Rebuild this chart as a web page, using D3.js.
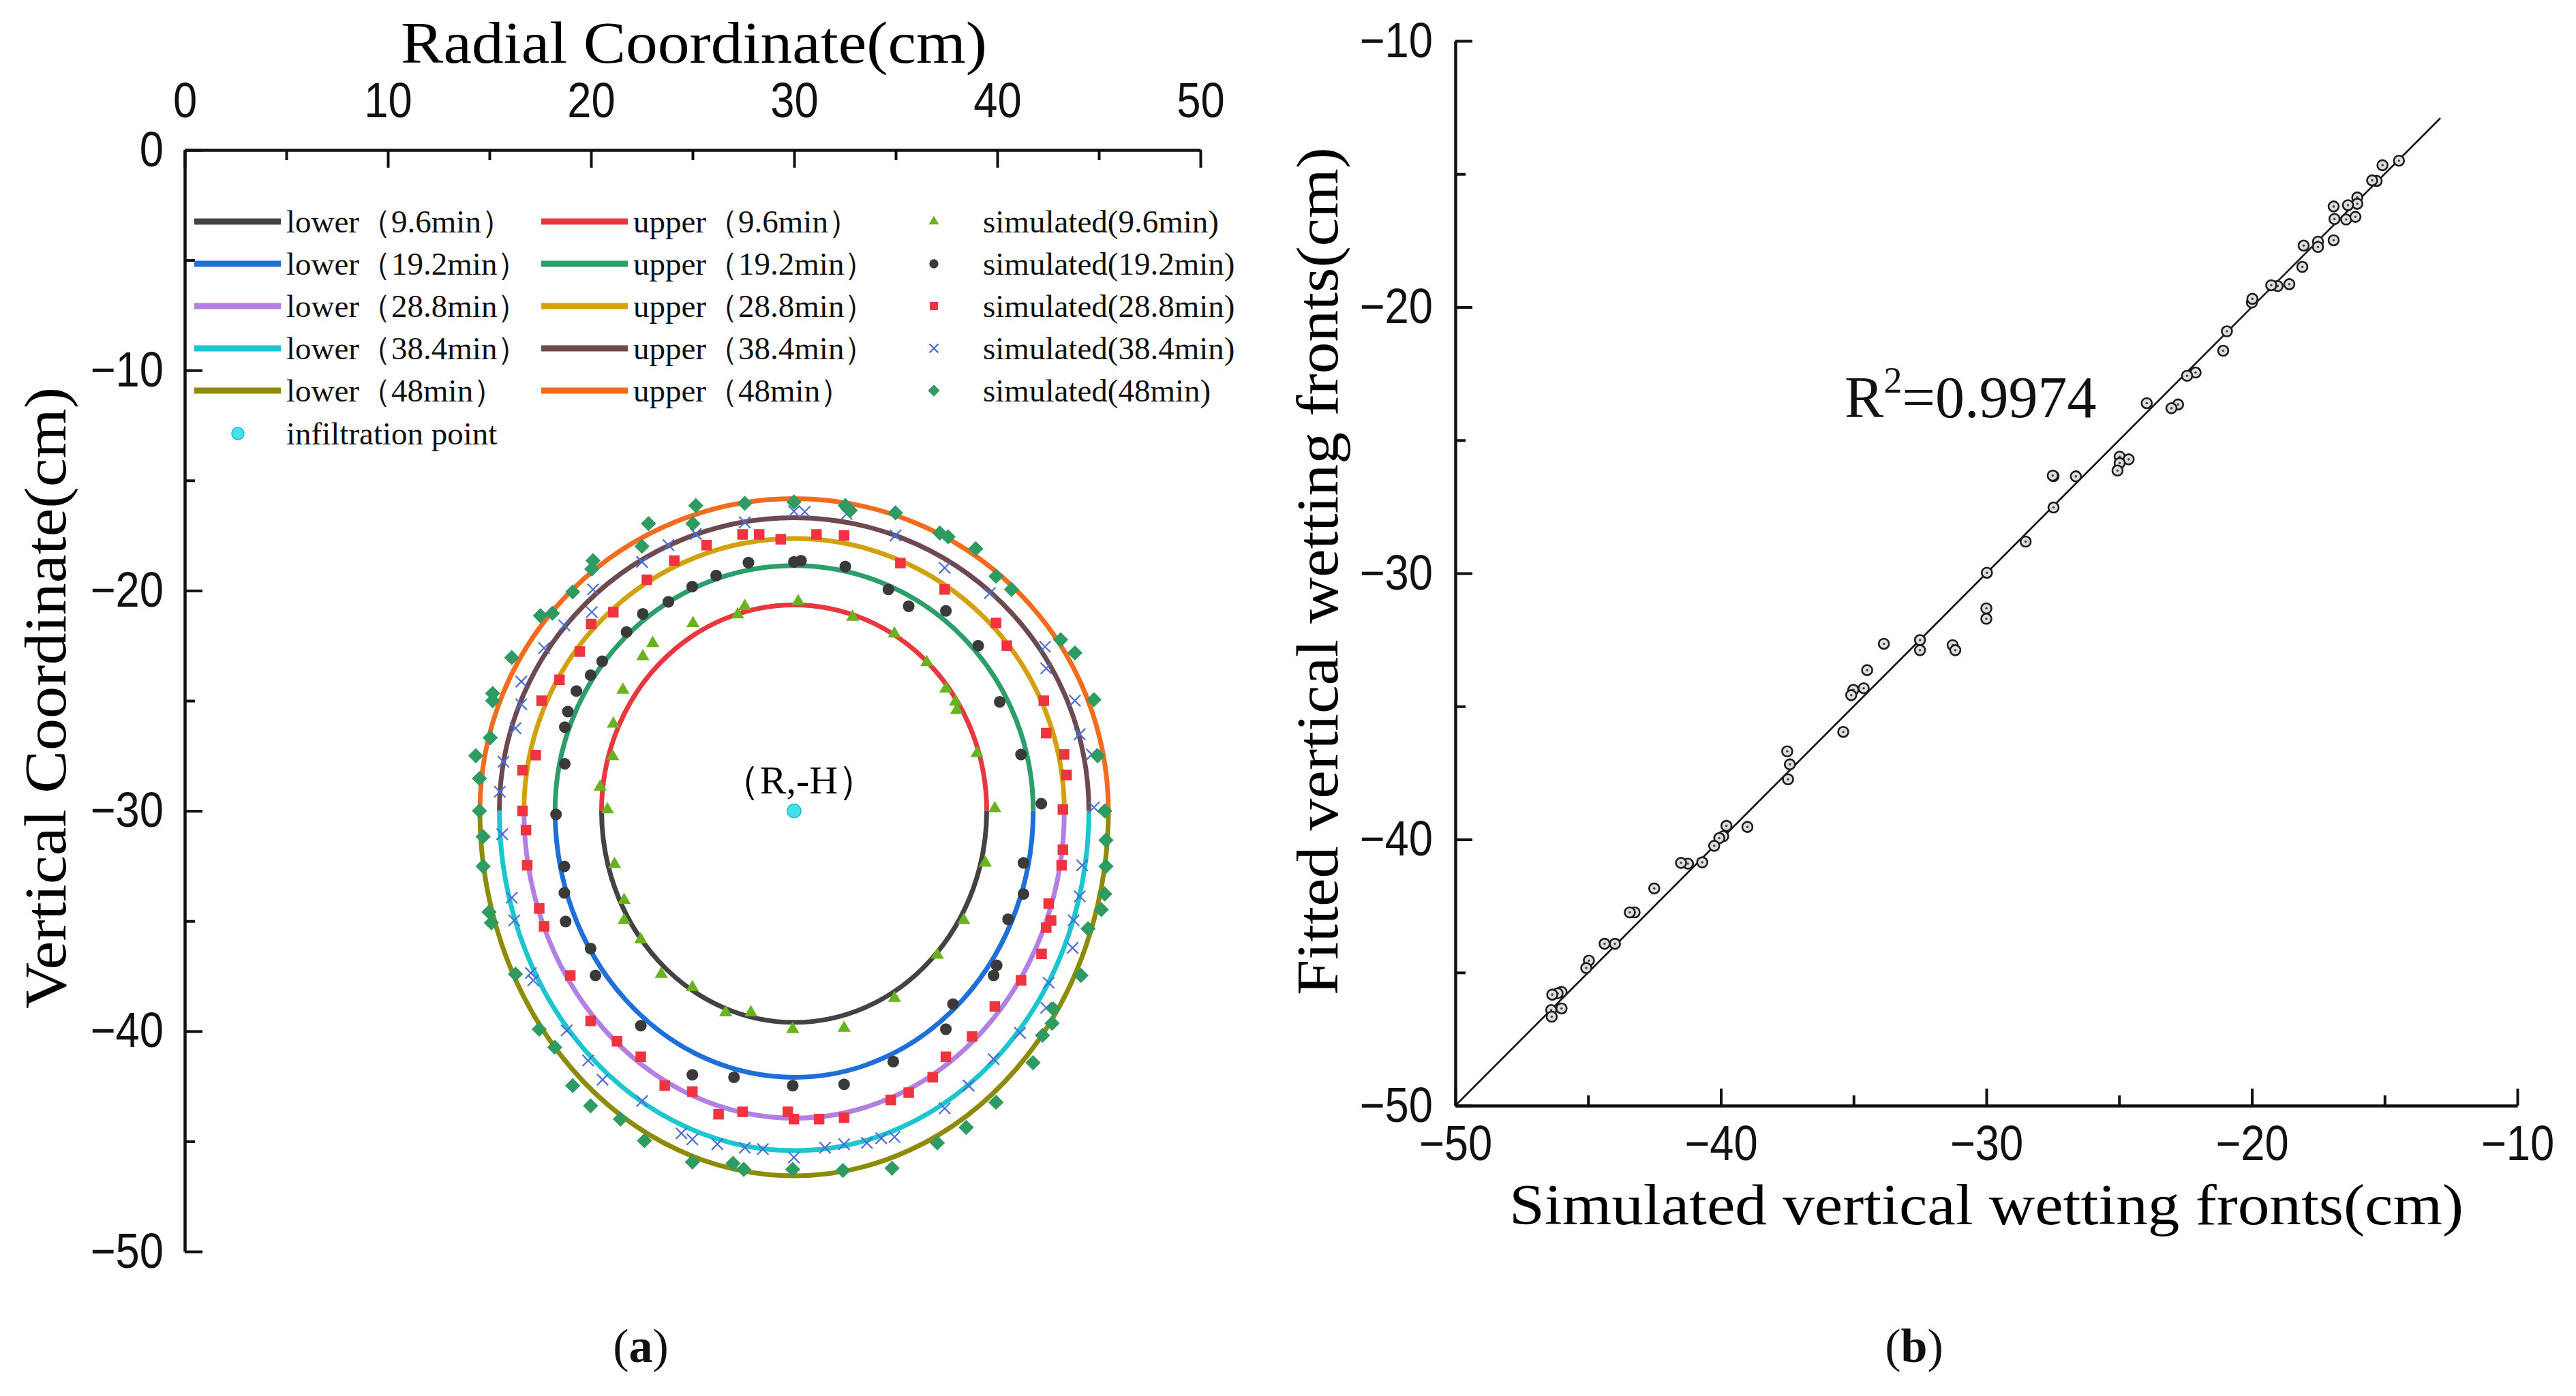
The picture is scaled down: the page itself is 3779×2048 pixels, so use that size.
<!DOCTYPE html>
<html>
<head>
<meta charset="utf-8">
<title>Wetting fronts</title>
<script src="https://cdn.jsdelivr.net/npm/d3@7"></script>
<style>
  body { margin: 0; background: #fff; }
  svg { display: block; }
</style>
</head>
<body>
<script>
// ---------- data ----------
var times = ["9.6", "19.2", "28.8", "38.4", "48"];
var infiltration = [30, -30];

// fitted fronts: half width, upward reach and downward reach from (R,-H), cm
var fitHalfWidth = [9.48, 11.77, 13.30, 14.51, 15.47];
var fitUpper = [9.35, 11.14, 12.36, 13.31, 14.18];
var fitLower = [9.60, 12.10, 13.95, 15.42, 16.57];

var lowerLabels = ["lower（9.6min）", "lower（19.2min）", "lower（28.8min）", "lower（38.4min）", "lower（48min）"];
var upperLabels = ["upper（9.6min）", "upper（19.2min）", "upper（28.8min）", "upper（38.4min）", "upper（48min）"];
var simLabels = ["simulated(9.6min)", "simulated(19.2min)", "simulated(28.8min)", "simulated(38.4min)", "simulated(48min)"];

var sim96 = [[30.2,-20.49],[27.57,-20.71],[27.22,-21.09],[25.02,-21.49],[23.04,-22.39],[22.55,-22.99],[21.57,-24.51],
  [21.1,-26.05],[21.07,-27.53],[20.45,-28.91],[20.81,-29.94],[32.88,-21.2],[34.94,-21.96],[36.53,-23.26],[37.47,-24.46],
  [37.94,-25.05],[38.0,-25.43],[39.0,-27.39],[39.88,-29.89],[21.16,-32.42],[21.63,-34.05],[21.63,-34.97],[22.45,-35.84],
  [23.46,-37.41],[24.99,-38.01],[26.63,-39.15],[27.87,-39.15],[29.93,-39.91],[32.46,-39.86],[34.94,-38.5],[37.05,-36.54],
  [38.35,-34.97],[39.41,-32.36]];
var sim192 = [[30.34,-18.64],[29.99,-18.7],[27.75,-18.73],[26.16,-19.32],[24.98,-19.82],[23.81,-20.51],[22.55,-21.06],
  [21.75,-21.88],[20.55,-23.21],[19.98,-23.84],[19.28,-24.56],[18.86,-25.49],[18.71,-26.2],[18.71,-27.86],[18.28,-30.16],
  [32.52,-18.91],[34.64,-19.95],[35.64,-20.71],[37.47,-20.92],[39.06,-22.5],[40.12,-25.05],[41.17,-27.44],[42.17,-29.67],
  [18.69,-32.52],[18.69,-33.72],[18.75,-35.02],[19.98,-36.25],[20.22,-37.47],[22.45,-39.75],[24.99,-41.98],[27.04,-42.09],
  [29.93,-42.47],[32.46,-42.41],[34.88,-41.38],[37.47,-39.91],[37.82,-38.77],[39.82,-37.47],[39.97,-37.01],[40.53,-34.92],
  [41.29,-33.77],[41.29,-32.36]];
var sim288 = [[31.1,-17.45],[29.34,-17.67],[28.28,-17.45],[27.46,-17.45],[25.69,-17.94],[24.1,-18.64],[22.75,-19.51],
  [21.1,-20.98],[20.01,-21.52],[19.45,-22.77],[18.45,-24.05],[17.57,-25.0],[17.28,-27.47],[16.63,-28.15],[16.63,-30.0],
  [16.8,-30.87],[32.46,-17.5],[35.23,-18.75],[37.41,-19.95],[39.94,-21.47],[40.47,-22.5],[42.29,-25.0],[42.41,-26.47],
  [43.29,-27.44],[43.41,-28.37],[43.23,-29.94],[16.86,-32.47],[17.45,-34.43],[17.69,-35.24],[18.98,-37.47],[19.98,-39.53],
  [21.28,-40.46],[22.45,-41.16],[23.63,-42.47],[24.99,-42.74],[26.28,-43.77],[27.46,-43.66],[29.69,-43.66],[29.99,-43.99],
  [31.23,-43.99],[32.46,-43.93],[34.76,-43.12],[35.64,-42.79],[36.82,-42.09],[37.47,-41.16],[38.76,-40.24],[39.88,-38.88],
  [41.17,-37.69],[42.18,-36.49],[42.41,-35.3],[42.65,-34.97],[42.53,-34.21],[43.17,-32.47],[43.23,-31.76]];
var sim384 = [[30.52,-16.42],[27.57,-16.9],[25.16,-17.43],[23.81,-17.94],[22.51,-18.7],[20.1,-19.95],[20.04,-20.98],
  [18.69,-21.58],[17.69,-22.61],[16.57,-24.13],[16.57,-25.16],[16.28,-26.25],[15.69,-27.77],[15.51,-29.13],[29.99,-16.4],
  [32.58,-16.52],[34.99,-17.5],[37.41,-18.97],[39.64,-20.11],[42.35,-22.55],[42.41,-23.53],[43.82,-25.0],[44.06,-26.52],
  [44.65,-27.44],[44.76,-29.84],[15.63,-31.06],[16.1,-33.94],[16.22,-34.97],[17.04,-37.36],[17.16,-37.69],[18.8,-39.97],
  [19.86,-41.33],[20.57,-42.2],[22.51,-43.17],[24.45,-44.64],[24.99,-44.91],[26.22,-45.13],[27.57,-45.29],[28.46,-45.35],
  [29.99,-45.73],[31.52,-45.29],[32.46,-45.13],[33.58,-45.07],[34.29,-44.86],[34.94,-44.8],[37.41,-43.5],[38.59,-42.47],
  [39.82,-41.27],[41.12,-40.08],[42.41,-38.94],[42.53,-37.8],[43.71,-36.22],[43.76,-34.97],[44.06,-33.88],[44.18,-32.47]];
var sim48 = [[29.99,-15.98],[27.57,-16.04],[25.16,-16.14],[25.02,-16.96],[22.83,-16.96],[22.51,-17.99],[20.1,-18.64],
  [20.04,-19.02],[19.1,-20.06],[18.1,-21.03],[17.51,-21.14],[16.1,-23.04],[15.16,-24.67],[15.16,-25.0],[15.04,-26.68],
  [14.33,-27.5],[14.51,-28.53],[14.51,-30.0],[32.52,-16.14],[32.76,-16.36],[34.99,-16.47],[37.17,-17.39],[37.58,-17.56],
  [38.94,-18.1],[39.94,-19.35],[40.7,-19.95],[43.12,-22.23],[43.82,-22.83],[44.76,-24.95],[44.94,-27.5],[45.29,-30.0],
  [14.69,-31.17],[14.69,-32.52],[14.98,-34.59],[15.1,-35.08],[16.28,-37.41],[17.45,-39.91],[18.22,-40.73],[19.1,-42.47],
  [19.98,-43.39],[21.45,-43.99],[22.63,-44.97],[24.99,-45.94],[26.99,-46.0],[27.52,-46.27],[29.93,-46.27],[32.4,-46.32],
  [34.82,-46.22],[37.05,-45.07],[38.47,-44.37],[39.94,-43.23],[41.76,-41.43],[42.23,-40.19],[42.7,-39.64],[42.76,-38.99],
  [44.12,-37.47],[44.47,-35.35],[45.12,-34.48],[45.29,-33.77],[45.35,-32.52],[45.35,-31.33]];
var simSeries = [sim96, sim192, sim288, sim384, sim48];

// panel (b): simulated vs fitted vertical wetting fronts, cm
var simFront = [-35.39,-37.5,-37.4,-37.47,-39.79,-39.0,-39.91,-40.06,-40.25,-40.7,-41.24,-41.5,-42.51,-43.25,-43.43,
  -43.99,-44.38,-44.97,-45.07,-46.0,-46.15,-46.35,-46.0,-46.39,-46.37,
  -20.0,-19.98,-20.94,-21.08,-22.12,-22.44,-23.96,-22.78,-23.03,-24.98,-24.64,-24.98,-25.06,-26.63,-27.47,-27.5,-27.47,
  -28.52,-29.98,-30.0,-30.0,-31.27,-31.17,-32.5,-32.5,-33.86,-34.49,-34.62,-35.01,-35.09,
  -14.46,-15.08,-15.3,-15.47,-16.03,-16.03,-16.38,-16.92,-16.89,-16.45,-16.1,-16.92,-17.51,-17.51,-18.05,-18.1,-18.59,
  -19.03,-19.27];
var fitFront = [-35.96,-36.69,-37.18,-37.74,-39.49,-39.53,-39.88,-39.95,-40.24,-40.86,-40.91,-40.88,-41.84,-42.74,-42.74,
  -43.92,-43.92,-44.55,-44.83,-45.73,-45.78,-45.83,-46.35,-46.41,-46.66,
  -19.83,-19.69,-20.91,-21.64,-22.46,-22.58,-23.61,-23.66,-23.8,-25.62,-25.72,-25.86,-26.14,-26.36,-26.35,-26.33,-27.53,
  -28.81,-29.98,-31.32,-31.71,-32.7,-32.89,-32.51,-32.89,-32.65,-33.64,-34.32,-34.38,-34.58,
  -14.5,-14.67,-15.26,-15.24,-15.88,-16.12,-16.17,-16.22,-16.69,-16.71,-16.61,-17.49,-17.54,-17.74,-17.69,-18.49,-19.14,
  -19.21,-19.18];
var oneToOne = [-50, -12.9];
var rSquared = "0.9974";

var radialTicks = [0, 10, 20, 30, 40, 50];
var radialMinor = [5, 15, 25, 35, 45];
var depthTicks = [0, -10, -20, -30, -40, -50];
var depthMinor = [-5, -15, -25, -35, -45];
var frontTicks = [-50, -40, -30, -20, -10];
var frontMinor = [-45, -35, -25, -15];

// ---------- styles ----------
var lowerColors = ["#434343", "#1f6fd8", "#b27fe2", "#1cc6d0", "#8e8b08"];
var upperColors = ["#e8373f", "#2c9e69", "#d3a10e", "#6c4a50", "#f36b1c"];
var simColors = ["#6ab31e", "#3a3a3a", "#ef3440", "#4d6dd4", "#2e9c62"];
var numFont = "'Liberation Sans Narrow', 'Arial Narrow', 'Liberation Sans', sans-serif";
var serif = "'Liberation Serif', 'DejaVu Serif', serif";
var squeeze = 0.88; // tick numbers are set in a condensed face

var W = 3779, H = 2048;
var svg = d3.select("body").append("svg")
  .attr("width", W)
  .attr("height", H);
svg.append("rect").attr("width", W).attr("height", H).attr("fill", "#fff");

function styleAxis(g, fontSize) {
  g.attr("font-size", fontSize).attr("font-family", numFont);
  g.selectAll("line").attr("stroke", "#111").attr("stroke-width", 4);
  g.selectAll("path").attr("stroke", "#111").attr("stroke-width", 4.5);
  g.selectAll("text").attr("fill", "#111").attr("transform", "scale(" + squeeze + ",1)");
}

// ================= panel (a) =================
var xL = d3.scaleLinear().domain([0, 50]).range([271, 1761]);
var yL = d3.scaleLinear().domain([0, -50]).range([220, 1836]);

var gTop = svg.append("g").attr("transform", "translate(0," + yL(0) + ")")
  .call(d3.axisTop(xL).tickValues(radialTicks).tickSize(-26).tickSizeOuter(0).tickPadding(48));
styleAxis(gTop, 72);
var gTopMinor = svg.append("g").attr("transform", "translate(0," + yL(0) + ")")
  .call(d3.axisTop(xL).tickValues(radialMinor).tickSize(-15).tickFormat(""));
gTopMinor.select(".domain").remove();
styleAxis(gTopMinor, 72);

var gLeft = svg.append("g").attr("transform", "translate(" + xL(0) + ",0)")
  .call(d3.axisLeft(yL).tickValues(depthTicks).tickSize(-26).tickSizeOuter(0).tickPadding(31 / squeeze));
styleAxis(gLeft, 72);
var gLeftMinor = svg.append("g").attr("transform", "translate(" + xL(0) + ",0)")
  .call(d3.axisLeft(yL).tickValues(depthMinor).tickSize(-15).tickFormat(""));
gLeftMinor.select(".domain").remove();
styleAxis(gLeftMinor, 72);

svg.append("text")
  .attr("x", 1018).attr("y", 92)
  .attr("text-anchor", "middle")
  .attr("font-family", serif).attr("font-size", 86)
  .attr("textLength", 860).attr("lengthAdjust", "spacingAndGlyphs")
  .text("Radial Coordinate(cm)");

svg.append("text")
  .attr("transform", "translate(96,1024) rotate(-90)")
  .attr("text-anchor", "middle")
  .attr("font-family", serif).attr("font-size", 86)
  .attr("textLength", 912).attr("lengthAdjust", "spacingAndGlyphs")
  .text("Vertical Coordinate(cm)");

// fitted fronts as half ellipses around (R,-H)
var cx = infiltration[0], cy = infiltration[1];
function halfFront(a, b, up) {
  var x0 = xL(cx - a), x1 = xL(cx + a), y0 = yL(cy);
  var rx = xL(cx + a) - xL(cx);
  var ry = Math.abs(yL(cy + (up ? b : -b)) - yL(cy));
  return "M" + x0 + "," + y0 + "A" + rx + "," + ry + " 0 0 " + (up ? 1 : 0) + " " + x1 + "," + y0;
}
var curves = svg.append("g").attr("fill", "none").attr("stroke-width", 7);
times.forEach(function(t, i) {
  curves.append("path")
    .attr("d", halfFront(fitHalfWidth[i], fitLower[i], false))
    .attr("stroke", lowerColors[i]);
  curves.append("path")
    .attr("d", halfFront(fitHalfWidth[i], fitUpper[i], true))
    .attr("stroke", upperColors[i]);
});

// marker shapes for the simulated fronts
var xSym = d3.symbolTimes || d3.symbolX;
var simSymbols = [
  { type: d3.symbolTriangle, size: 160, rot: 0, stroke: false },
  { type: d3.symbolCircle, size: 230, rot: 0, stroke: false },
  { type: d3.symbolSquare, size: 240, rot: 0, stroke: false },
  { type: xSym, size: 180, rot: 0, stroke: true },
  { type: d3.symbolSquare, size: 250, rot: 45, stroke: false }
];
function drawMarker(g, i, px, py, k) {
  var s = simSymbols[i];
  var p = g.append("path")
    .attr("d", d3.symbol().type(s.type).size(s.size * (k || 1))())
    .attr("transform", "translate(" + px + "," + py + ") rotate(" + s.rot + ")");
  if (s.stroke) {
    p.attr("fill", "none").attr("stroke", simColors[i]).attr("stroke-width", 2.2);
  } else {
    p.attr("fill", simColors[i]);
  }
}
var marks = svg.append("g");
simSeries.forEach(function(series, i) {
  series.forEach(function(d) { drawMarker(marks, i, xL(d[0]), yL(d[1])); });
});

// infiltration point and label
svg.append("circle")
  .attr("cx", xL(infiltration[0])).attr("cy", yL(infiltration[1])).attr("r", 10)
  .attr("fill", "#44e1ec").attr("stroke", "#22b9c9").attr("stroke-width", 1.5);
svg.append("text")
  .attr("x", xL(infiltration[0]) + 7).attr("y", yL(infiltration[1]) - 26)
  .attr("text-anchor", "middle")
  .attr("font-family", serif).attr("font-size", 58)
  .text("（R,-H）");

// legend
var legend = svg.append("g").attr("font-family", serif).attr("font-size", 47).attr("fill", "#111");
var rowY = [325, 387, 449, 511, 573, 636];
times.forEach(function(t, i) {
  legend.append("line").attr("x1", 285).attr("x2", 412).attr("y1", rowY[i]).attr("y2", rowY[i])
    .attr("stroke", lowerColors[i]).attr("stroke-width", 9);
  legend.append("text").attr("x", 420).attr("y", rowY[i] + 16).text(lowerLabels[i]);
  legend.append("line").attr("x1", 794).attr("x2", 921).attr("y1", rowY[i]).attr("y2", rowY[i])
    .attr("stroke", upperColors[i]).attr("stroke-width", 9);
  legend.append("text").attr("x", 929).attr("y", rowY[i] + 16).text(upperLabels[i]);
  drawMarker(legend, i, 1370, rowY[i], 0.6);
  legend.append("text").attr("x", 1442).attr("y", rowY[i] + 16).text(simLabels[i]);
});
legend.append("circle").attr("cx", 349).attr("cy", rowY[5]).attr("r", 9)
  .attr("fill", "#44e1ec").attr("stroke", "#22b9c9").attr("stroke-width", 1.5);
legend.append("text").attr("x", 420).attr("y", rowY[5] + 16).text("infiltration point");

// ================= panel (b) =================
var xR = d3.scaleLinear().domain([-50, -10]).range([2135, 3693]);
var yR = d3.scaleLinear().domain([-50, -10]).range([1622, 60]);

var gBot = svg.append("g").attr("transform", "translate(0," + yR(-50) + ")")
  .call(d3.axisBottom(xR).tickValues(frontTicks).tickSize(-25).tickSizeOuter(0).tickPadding(29));
styleAxis(gBot, 72);
var gBotMinor = svg.append("g").attr("transform", "translate(0," + yR(-50) + ")")
  .call(d3.axisBottom(xR).tickValues(frontMinor).tickSize(-15).tickFormat(""));
gBotMinor.select(".domain").remove();
styleAxis(gBotMinor, 72);

var gRL = svg.append("g").attr("transform", "translate(" + xR(-50) + ",0)")
  .call(d3.axisLeft(yR).tickValues(frontTicks).tickSize(-25).tickSizeOuter(0).tickPadding(33 / squeeze));
styleAxis(gRL, 72);
var gRLMinor = svg.append("g").attr("transform", "translate(" + xR(-50) + ",0)")
  .call(d3.axisLeft(yR).tickValues(frontMinor).tickSize(-15).tickFormat(""));
gRLMinor.select(".domain").remove();
styleAxis(gRLMinor, 72);

svg.append("text")
  .attr("x", 2914).attr("y", 1796)
  .attr("text-anchor", "middle")
  .attr("font-family", serif).attr("font-size", 84)
  .attr("textLength", 1400).attr("lengthAdjust", "spacingAndGlyphs")
  .text("Simulated vertical wetting fronts(cm)");
svg.append("text")
  .attr("transform", "translate(1962,838) rotate(-90)")
  .attr("text-anchor", "middle")
  .attr("font-family", serif).attr("font-size", 86)
  .attr("textLength", 1244).attr("lengthAdjust", "spacingAndGlyphs")
  .text("Fitted vertical wetting fronts(cm)");

svg.append("line")
  .attr("x1", xR(oneToOne[0])).attr("y1", yR(oneToOne[0]))
  .attr("x2", xR(oneToOne[1])).attr("y2", yR(oneToOne[1]))
  .attr("stroke", "#111").attr("stroke-width", 2.6);

var pts = svg.append("g");
simFront.forEach(function(s, i) {
  pts.append("circle")
    .attr("cx", xR(s)).attr("cy", yR(fitFront[i])).attr("r", 7.5)
    .attr("fill", "#dedede").attr("stroke", "#1c1c1c").attr("stroke-width", 2.6);
  pts.append("circle")
    .attr("cx", xR(s)).attr("cy", yR(fitFront[i])).attr("r", 1.8)
    .attr("fill", "#444");
});

var r2 = svg.append("text")
  .attr("x", 2706).attr("y", 612)
  .attr("font-family", serif).attr("font-size", 86).attr("fill", "#111");
r2.append("tspan").text("R");
r2.append("tspan").attr("font-size", 54).attr("dy", -36).text("2");
r2.append("tspan").attr("dy", 36).text("=" + rSquared);

// captions
function caption(x, letter) {
  var t = svg.append("text")
    .attr("x", x).attr("y", 1998)
    .attr("text-anchor", "middle")
    .attr("font-family", serif).attr("font-size", 70).attr("fill", "#111");
  t.append("tspan").text("(");
  t.append("tspan").attr("font-weight", "bold").text(letter);
  t.append("tspan").text(")");
}
caption(940, "a");
caption(2808, "b");
</script>
</body>
</html>
